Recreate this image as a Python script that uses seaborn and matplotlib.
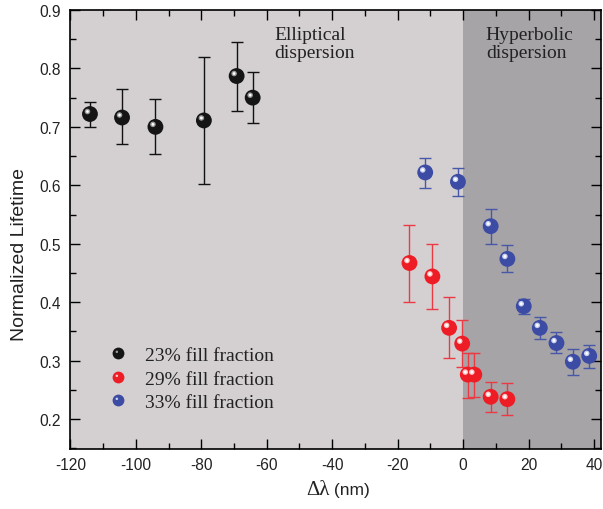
import numpy as np
import matplotlib
matplotlib.use("Agg")
import matplotlib.pyplot as plt
import matplotlib.transforms as mtransforms
from matplotlib.lines import Line2D
from matplotlib.path import Path
from matplotlib.legend_handler import HandlerTuple
import seaborn as sns
import pandas as pd

# data
x23 = [-114.0, -104.2, -94.0, -79.2, -69.2, -64.3]
y23 = [0.722, 0.716, 0.700, 0.711, 0.787, 0.750]
lo23 = [0.700, 0.670, 0.653, 0.603, 0.727, 0.707]
hi23 = [0.743, 0.764, 0.747, 0.819, 0.846, 0.794]

x29 = [-16.4, -9.4, -4.3, -0.3, 1.4, 3.4, 8.4, 13.5]
y29 = [0.467, 0.444, 0.356, 0.329, 0.276, 0.276, 0.238, 0.234]
lo29 = [0.401, 0.388, 0.305, 0.289, 0.236, 0.237, 0.212, 0.207]
hi29 = [0.532, 0.499, 0.408, 0.369, 0.313, 0.313, 0.264, 0.262]

x33 = [-11.6, -1.6, 8.4, 13.5, 18.5, 23.4, 28.5, 33.5, 38.5]
y33 = [0.622, 0.606, 0.530, 0.474, 0.393, 0.356, 0.330, 0.298, 0.308]
lo33 = [0.596, 0.581, 0.499, 0.451, 0.379, 0.337, 0.313, 0.276, 0.287]
hi33 = [0.646, 0.630, 0.560, 0.497, 0.406, 0.375, 0.349, 0.320, 0.327]

labels = ["23% fill fraction", "29% fill fraction", "33% fill fraction"]

sns.set_style("ticks")
plt.rcParams['font.family'] = ['Liberation Sans', 'DejaVu Sans']
plt.rcParams['axes.unicode_minus'] = False
serif = ['Liberation Serif', 'DejaVu Serif']

fig = plt.figure(figsize=(6.03, 5.10), dpi=100)
ax = fig.add_axes([0.1166, 0.1176, 0.8801, 0.8608])

xmin, xmax = -120, 42.1
ax.axvspan(xmin, 0, color='#d4d0d1', zorder=0, lw=0)
ax.axvspan(0, xmax, color='#a6a4a7', zorder=0, lw=0)

series = [
    (x23, y23, lo23, hi23, '#151515', '#111111', '#9a9a9a'),
    (x29, y29, lo29, hi29, '#ee1c25', '#ec3a44', '#ffc8c8'),
    (x33, y33, lo33, hi33, '#3c4ba3', '#4858a8', '#c8d0f0'),
]

frames = []
for (xs, ys, lo, hi, mc, ec, hc), lab in zip(series, labels):
    ys_a = np.array(ys)
    yerr = [ys_a - np.array(lo), np.array(hi) - ys_a]
    ax.errorbar(xs, ys, yerr=yerr, fmt='none', ecolor=ec, elinewidth=1.0,
                capsize=4.5, capthick=1.0, zorder=2)
    frames.append(pd.DataFrame({'x': xs, 'y': ys, 'series': lab}))

df = pd.concat(frames, ignore_index=True)
palette = {lab: s[4] for lab, s in zip(labels, series)}
sns.scatterplot(data=df, x='x', y='y', hue='series', palette=palette, s=130,
                edgecolor='none', linewidth=0, ax=ax, zorder=3, legend=False)

# highlight spots to mimic shaded spheres
off = mtransforms.offset_copy(ax.transData, fig=fig, x=-1.8, y=1.8, units='points')
for (xs, ys, lo, hi, mc, ec, hc) in series:
    ax.scatter(xs, ys, s=16, color=hc, edgecolor='none', transform=off, zorder=4)
    ax.scatter(xs, ys, s=4, color='white', edgecolor='none', transform=off, zorder=5)

ax.set_xlim(xmin, xmax)
ax.set_ylim(0.1486, 0.9)
ax.set_xticks(np.arange(-120, 41, 20))
ax.set_xticks(np.arange(-110, 41, 10), minor=True)
ax.set_yticks(np.arange(0.2, 0.91, 0.1))
ax.set_yticks(np.arange(0.15, 0.91, 0.05), minor=True)
ax.set_yticklabels([f'{v:.1f}' for v in np.arange(0.2, 0.91, 0.1)])
ax.tick_params(which='both', direction='in', top=True, right=True,
               labelsize=11.2, color='black', width=1.0, labelcolor='#222222')
ax.tick_params(which='major', length=7)
ax.tick_params(which='minor', length=4)
ax.tick_params(axis='y', which='major', pad=7)
ax.tick_params(axis='x', which='major', pad=6)
for sp in ax.spines.values():
    sp.set_linewidth(1.2)
    sp.set_color('black')

ax.set_xlabel('')
ax.set_ylabel('')
ax.text(-0.095, 0.445, 'Normalized Lifetime', fontsize=14, rotation=90,
        ha='center', va='center', transform=ax.transAxes, color='#222222')
ax.text(-40.9, 0.080, '\u0394\u03bb', fontsize=15, family=serif, color='#222222',
        ha='right', va='center', clip_on=False)
ax.text(-40.9, 0.080, ' (nm)', fontsize=12.5, ha='left', va='center',
        color='#222222', clip_on=False)

ax.text(-57.7, 0.873, 'Elliptical\ndispersion', fontsize=14, family=serif,
        color='#222222', ha='left', va='top', linespacing=1.1)
ax.text(6.9, 0.873, 'Hyperbolic\ndispersion', fontsize=14, family=serif,
        color='#222222', ha='left', va='top', linespacing=1.1)

# off-centre highlight marker for the legend spheres
t = np.linspace(0, 2 * np.pi, 30)
spot = Path(np.column_stack([-1.2 + 0.9 * np.cos(t), 1.2 + 0.9 * np.sin(t)]), closed=True)

handles = []
for (xs, ys, lo, hi, mc, ec, hc) in series:
    h1 = Line2D([], [], ls='none', marker='o', ms=8.5, mfc=mc, mec='none')
    h2 = Line2D([], [], ls='none', marker=spot, ms=4.2, mfc=hc, mec='none')
    handles.append((h1, h2))
ax.legend(handles, labels, handler_map={tuple: HandlerTuple(ndivide=1)},
          loc='center left', bbox_to_anchor=(0.0716, 0.16), frameon=False,
          prop={'family': serif, 'size': 14}, handlelength=1.0,
          handletextpad=0.89, labelspacing=0.3, borderpad=0, borderaxespad=0,
          labelcolor='#222222')

fig.savefig('out.png', dpi=100)
